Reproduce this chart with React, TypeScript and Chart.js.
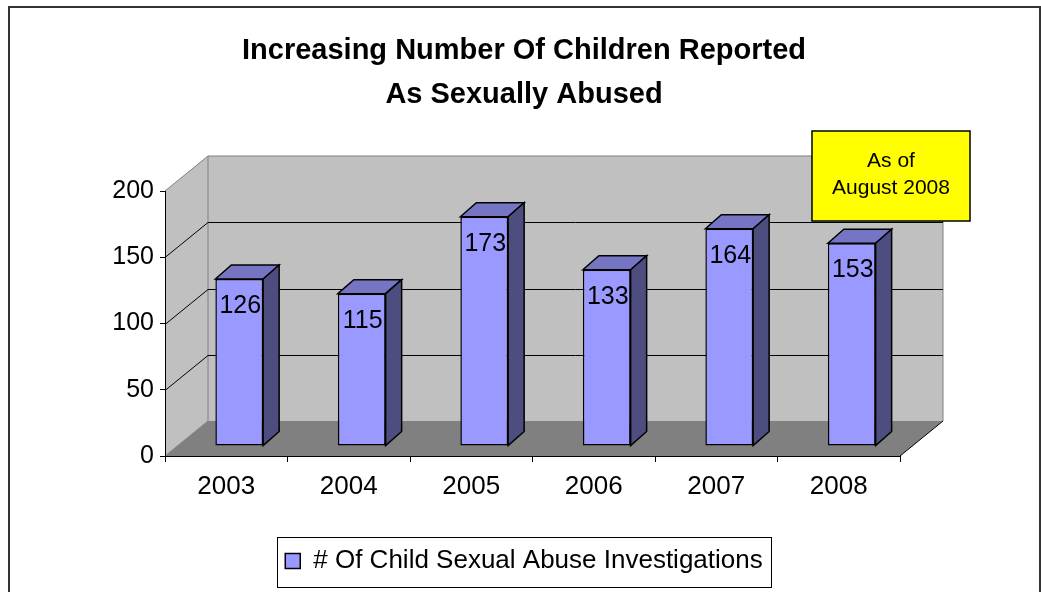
import React, { useEffect, useRef } from 'react';
import { Chart, registerables } from 'chart.js';

Chart.register(...registerables);

const categories = ['2003', '2004', '2005', '2006', '2007', '2008'];
const investigations = [126, 115, 173, 133, 164, 153];
const yTicks = [0, 50, 100, 150, 200];
const titleLines = ['Increasing Number Of Children Reported', 'As Sexually Abused'];
const seriesName = '# Of Child Sexual Abuse Investigations';
const noteLines = ['As of', 'August 2008'];

const FONT = '"Liberation Sans", Arial, Helvetica, sans-serif';
const DEPTH_X = 43;
const DEPTH_Y = -35;
const BAR_SHIFT_X = 13;
const BAR_SHIFT_Y = -10;
const BAR_DX = 16;
const BAR_DY = -14;

const wallsPlugin = {
  id: 'walls3d',
  beforeDraw(chart: any) {
    const { ctx } = chart;
    const xs = chart.scales.x;
    const ys = chart.scales.y;
    const left = xs.left;
    const right = xs.right;
    const y0 = ys.getPixelForValue(yTicks[0]);
    const yTop = ys.getPixelForValue(yTicks[yTicks.length - 1]);
    ctx.save();
    ctx.lineJoin = 'miter';
    // back wall
    ctx.fillStyle = '#c0c0c0';
    ctx.fillRect(left + DEPTH_X, yTop + DEPTH_Y, right - left, y0 - yTop);
    // left wall
    ctx.beginPath();
    ctx.moveTo(left, yTop);
    ctx.lineTo(left + DEPTH_X, yTop + DEPTH_Y);
    ctx.lineTo(left + DEPTH_X, y0 + DEPTH_Y);
    ctx.lineTo(left, y0);
    ctx.closePath();
    ctx.fill();
    // floor
    ctx.fillStyle = '#808080';
    ctx.beginPath();
    ctx.moveTo(left, y0);
    ctx.lineTo(right, y0);
    ctx.lineTo(right + DEPTH_X, y0 + DEPTH_Y);
    ctx.lineTo(left + DEPTH_X, y0 + DEPTH_Y);
    ctx.closePath();
    ctx.fill();
    // wall edges (gray)
    ctx.strokeStyle = '#808080';
    ctx.lineWidth = 1;
    ctx.beginPath();
    ctx.moveTo(left, yTop);
    ctx.lineTo(left + DEPTH_X, yTop + DEPTH_Y);
    ctx.lineTo(right + DEPTH_X, yTop + DEPTH_Y);
    ctx.lineTo(right + DEPTH_X, y0 + DEPTH_Y);
    ctx.moveTo(left + DEPTH_X, yTop + DEPTH_Y);
    ctx.lineTo(left + DEPTH_X, y0 + DEPTH_Y);
    ctx.moveTo(left, y0);
    ctx.lineTo(left + DEPTH_X, y0 + DEPTH_Y);
    ctx.stroke();
    // gridlines
    ctx.strokeStyle = '#000';
    ctx.beginPath();
    yTicks.slice(1, -1).forEach((v) => {
      const py = Math.round(ys.getPixelForValue(v)) + 0.5;
      ctx.moveTo(left, py);
      ctx.lineTo(left + DEPTH_X, py + DEPTH_Y);
      ctx.lineTo(right + DEPTH_X, py + DEPTH_Y);
    });
    // floor right edge
    ctx.moveTo(right, y0);
    ctx.lineTo(right + DEPTH_X, y0 + DEPTH_Y);
    ctx.stroke();
    ctx.restore();
  },
  beforeDatasetsDraw(chart: any) {
    chart.ctx.save();
    chart.ctx.translate(BAR_SHIFT_X, BAR_SHIFT_Y);
  },
  afterDatasetsDraw(chart: any) {
    const ctx = chart.ctx;
    const meta = chart.getDatasetMeta(0);
    ctx.lineJoin = 'miter';
    meta.data.forEach((bar: any, i: number) => {
      const { x, y, base, width } = bar.getProps(['x', 'y', 'base', 'width'], true);
      const x0 = x - width / 2;
      const x1 = x + width / 2;
      ctx.lineWidth = 1.5;
      ctx.strokeStyle = '#000';
      // top face
      ctx.beginPath();
      ctx.moveTo(x0, y);
      ctx.lineTo(x0 + BAR_DX, y + BAR_DY);
      ctx.lineTo(x1 + BAR_DX, y + BAR_DY);
      ctx.lineTo(x1, y);
      ctx.closePath();
      ctx.fillStyle = '#7575c4';
      ctx.fill();
      ctx.stroke();
      // side face
      ctx.beginPath();
      ctx.moveTo(x1, y);
      ctx.lineTo(x1 + BAR_DX, y + BAR_DY);
      ctx.lineTo(x1 + BAR_DX, base + BAR_DY);
      ctx.lineTo(x1, base);
      ctx.closePath();
      ctx.fillStyle = '#4d4d80';
      ctx.fill();
      ctx.stroke();
      // value label
      ctx.fillStyle = '#000';
      ctx.font = `25px ${FONT}`;
      ctx.textAlign = 'center';
      ctx.textBaseline = 'middle';
      ctx.fillText(String(investigations[i]), x + 1, y + 27);
    });
    ctx.restore();
  },
  afterDraw(chart: any) {
    const ctx = chart.ctx;
    ctx.save();
    // outer frame
    ctx.strokeStyle = '#333';
    ctx.lineWidth = 2;
    ctx.beginPath();
    ctx.moveTo(9, 600);
    ctx.lineTo(9, 7);
    ctx.lineTo(1040, 7);
    ctx.lineTo(1040, 600);
    ctx.stroke();
    // legend frame
    const hb = chart.legend && chart.legend.legendHitBoxes && chart.legend.legendHitBoxes[0];
    if (hb) {
      ctx.strokeStyle = '#000';
      ctx.lineWidth = 1;
      const l = Math.round(hb.left - 8) + 0.5;
      const r = Math.round(hb.left + hb.width + 8) + 0.5;
      const t = Math.round(hb.top - 11) + 0.5;
      const b = Math.round(hb.top + hb.height + 13) + 0.5;
      ctx.strokeRect(l, t, r - l, b - t);
    }
    // note box
    ctx.fillStyle = '#ffff00';
    ctx.fillRect(812, 131, 158, 90);
    ctx.strokeStyle = '#000';
    ctx.lineWidth = 1.5;
    ctx.strokeRect(812, 131, 158, 90);
    ctx.fillStyle = '#000';
    ctx.font = `21px ${FONT}`;
    ctx.textAlign = 'center';
    ctx.textBaseline = 'middle';
    noteLines.forEach((line, i) => ctx.fillText(line, 891, 161 + i * 27));
    ctx.restore();
  },
};

export default function App() {
  const canvasRef = useRef<HTMLCanvasElement | null>(null);

  useEffect(() => {
    if (!canvasRef.current) return;
    Chart.defaults.font.family = FONT;
    const chart = new Chart(canvasRef.current, {
      type: 'bar',
      data: {
        labels: categories,
        datasets: [
          {
            label: seriesName,
            data: investigations,
            backgroundColor: '#9999ff',
            borderColor: '#000',
            borderWidth: 1.5,
            borderSkipped: false,
            barPercentage: 0.39,
            categoryPercentage: 1,
            clip: false,
          } as any,
        ],
      },
      options: {
        animation: false,
        responsive: false,
        devicePixelRatio: 1,
        events: [],
        layout: { padding: { left: 7, right: 0, top: 0, bottom: 8 } },
        plugins: {
          tooltip: { enabled: false },
          title: {
            display: true,
            text: titleLines,
            color: '#000',
            font: { size: 29, weight: 'bold', lineHeight: 44 / 29 },
            padding: { top: 29, bottom: 74 },
          },
          legend: {
            position: 'bottom',
            labels: {
              boxWidth: 15,
              boxHeight: 15,
              padding: 10,
              color: '#000',
              font: { size: 26 },
            },
          },
        },
        scales: {
          x: {
            offset: true,
            grid: { offset: true, drawOnChartArea: false, drawTicks: true, tickLength: 6, color: '#000' },
            border: { display: true, color: '#000', width: 1 },
            ticks: { color: '#000', font: { size: 26 }, padding: 9, maxRotation: 0, autoSkip: false },
            afterFit: (s: any) => {
              s.height = 82;
            },
          },
          y: {
            min: yTicks[0],
            max: yTicks[yTicks.length - 1],
            afterBuildTicks: (s: any) => {
              s.ticks = yTicks.map((v) => ({ value: v }));
            },
            grid: { drawOnChartArea: false, drawTicks: true, tickLength: 5, color: '#000' },
            border: { display: true, color: '#000', width: 1 },
            ticks: { color: '#000', font: { size: 25 }, padding: 6 },
            afterFit: (s: any) => {
              s.width = 158;
            },
          },
          yR: {
            position: 'right',
            display: true,
            grid: { display: false },
            border: { display: false },
            ticks: { display: false },
            afterFit: (s: any) => {
              s.width = 141;
            },
          },
        },
      } as any,
      plugins: [wallsPlugin],
    });
    return () => chart.destroy();
  }, []);

  return (
    <div style={{ position: 'absolute', left: 0, top: 0, width: 1041, height: 592, background: '#fff' }}>
      <canvas ref={canvasRef} width={1041} height={592} style={{ display: 'block' }} />
    </div>
  );
}
